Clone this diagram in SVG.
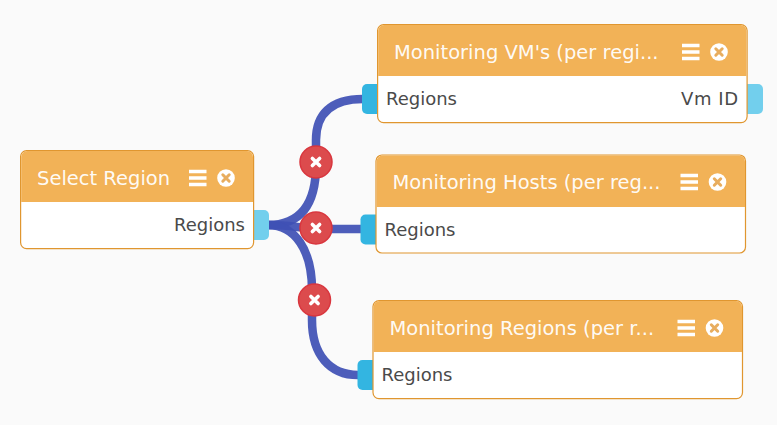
<svg xmlns="http://www.w3.org/2000/svg" width="777" height="425" viewBox="0 0 777 425">
<style>
.title{font:19.5px "DejaVu Sans",sans-serif;fill:#fff;fill-opacity:.96}
.port{font:18px "DejaVu Sans",sans-serif;fill:#4a4a4a}
.body{fill:#fff;stroke:#e0962f;stroke-width:1.2}
.head{fill:#f2b257}
.in{fill:#33b5e1}
.out{fill:#72cfed}
.wire{fill:none;stroke:#3f51b5;stroke-width:8.5;stroke-opacity:.93}
.del{fill:#dc4b4d;stroke:#d9363e;stroke-width:1.5}
.x{stroke:#fff;stroke-width:3.6;stroke-linecap:round;fill:none}
.xo{stroke:#e8ad5e;stroke-width:3;stroke-linecap:round;fill:none}
</style>
<defs>
<g id="controls">
<path d="M0 -6.500H17.500M0 0H17.500M0 6.500H17.500" stroke="#fff" stroke-width="3.400" fill="none"/>
<circle cx="37" cy="0" r="8.800" fill="#fff"/>
<path class="xo" d="M33.800 -3.200L40.200 3.200M40.200 -3.200L33.800 3.200"/>
</g>
<g id="delBtn">
<circle class="del" r="16"/>
<path class="x" d="M-3.600 -3.600L3.600 3.600M3.600 -3.600L-3.600 3.600"/>
</g>
</defs>
<rect width="777" height="425" fill="#fafafa"/>
<g id="connectors">
<path class="wire" d="M268 225C300 225 316 205 316 165V140C316 115 330 99 363 99"/>
<path class="wire" d="M268 225C295 225 300 229 330 229H361"/>
<path class="wire" d="M268 225C295 225 312 250 312 290V320C312 355 330 375 358 375"/>
</g>
<g id="node-select-region">
<rect class="out" x="244" y="210" width="25" height="30" rx="5"/>
<rect class="body" x="20.600" y="150.600" width="233" height="98" rx="6"/>
<path class="head" d="M21.200 202V157a6 6 0 0 1 6-6H247a6 6 0 0 1 6 6V202Z"/>
<text class="title" x="37" y="184.500">Select Region</text>
<use href="#controls" x="189" y="178"/>
<text class="port" x="245" y="231" text-anchor="end">Regions</text>
</g>
<g id="node-monitoring-vms">
<rect class="in" x="362" y="84" width="25" height="30" rx="5"/>
<rect class="out" x="738" y="84" width="25" height="30" rx="5"/>
<rect class="body" x="377.600" y="24.600" width="369.500" height="98" rx="6"/>
<path class="head" d="M378.200 76V31a6 6 0 0 1 6-6H740.500a6 6 0 0 1 6 6V76Z"/>
<text class="title" x="394" y="59">Monitoring VM's (per regi...</text>
<use href="#controls" x="682" y="52"/>
<text class="port" x="386" y="105">Regions</text>
<text class="port" x="738" y="105" text-anchor="end" textLength="57">Vm ID</text>
</g>
<g id="node-monitoring-hosts">
<rect class="in" x="360.500" y="214.500" width="25" height="30" rx="5"/>
<rect class="body" x="376" y="155" width="369.500" height="98" rx="6"/>
<path class="head" d="M376.600 207V161.500a6 6 0 0 1 6-6H739a6 6 0 0 1 6 6V207Z"/>
<text class="title" x="392.500" y="189">Monitoring Hosts (per reg...</text>
<use href="#controls" x="680.500" y="182"/>
<text class="port" x="384.500" y="236">Regions</text>
</g>
<g id="node-monitoring-regions">
<rect class="in" x="357.500" y="360" width="25" height="30" rx="5"/>
<rect class="body" x="373" y="300.600" width="369.500" height="98" rx="6"/>
<path class="head" d="M373.600 352V307a6 6 0 0 1 6-6H736a6 6 0 0 1 6 6V352Z"/>
<text class="title" x="389.500" y="335">Monitoring Regions (per r...</text>
<use href="#controls" x="677.500" y="328"/>
<text class="port" x="381.500" y="381">Regions</text>
</g>
<g id="delete-buttons">
<use href="#delBtn" x="316" y="162"/>
<use href="#delBtn" x="316" y="228"/>
<use href="#delBtn" x="314.500" y="300"/>
</g>
</svg>
